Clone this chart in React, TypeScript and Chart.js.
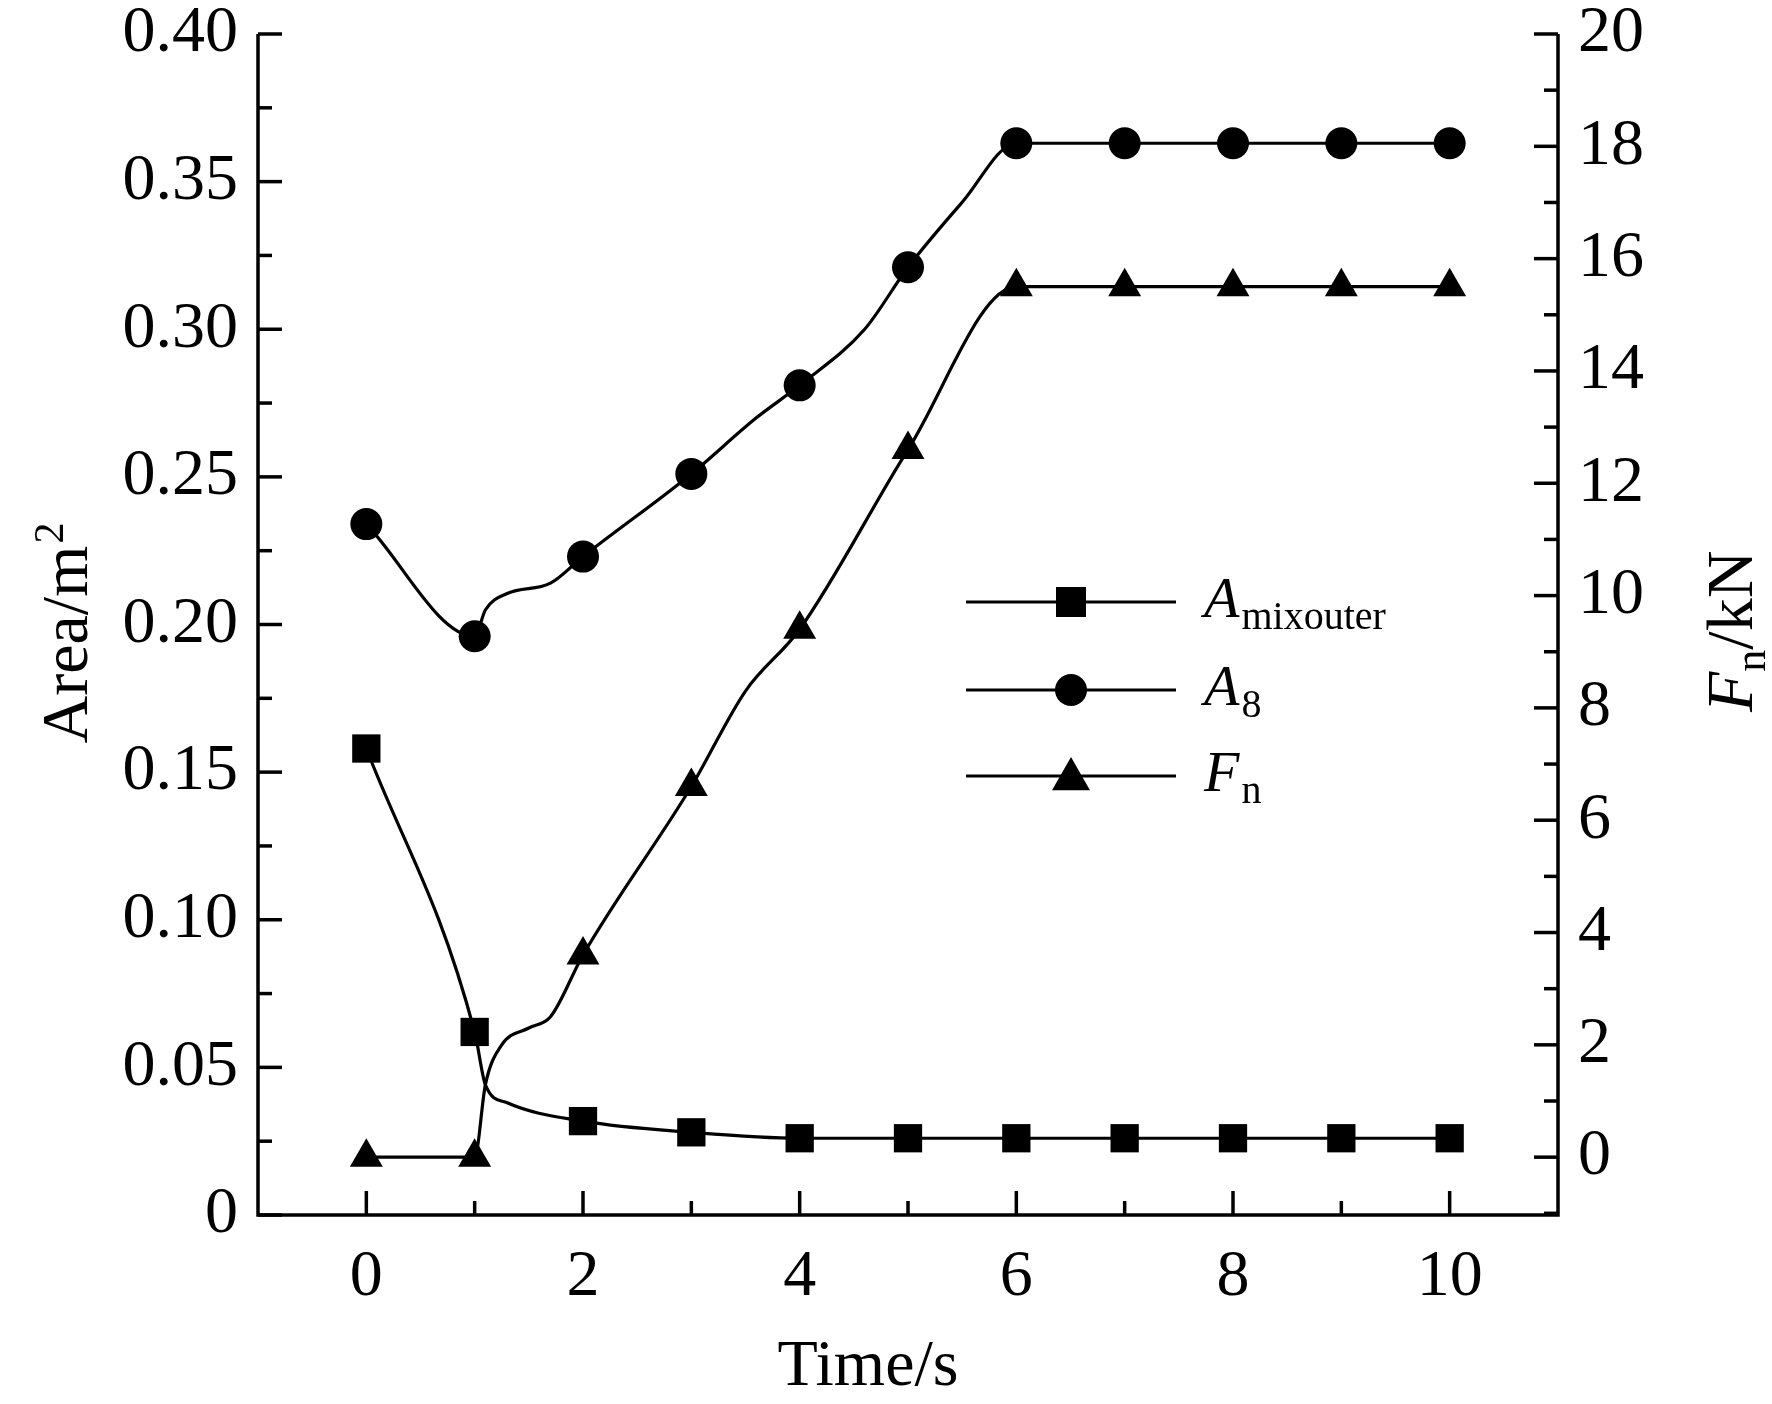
import React, { useEffect, useRef } from "react";
import { Chart, registerables } from "chart.js";
Chart.register(...registerables);

const mixX = [0, 1, 1.1, 1.3, 2, 3, 4, 5, 6, 7, 8, 9, 10];
const mixY = [0.158, 0.062, 0.044, 0.038, 0.0318, 0.028, 0.026, 0.026, 0.026, 0.026, 0.026, 0.026, 0.026];
const a8X = [0, 1, 1.1, 1.3, 1.7, 2, 3, 3.6, 4, 4.6, 5, 5.5, 6, 7, 8, 9, 10];
const a8Y = [0.234, 0.196, 0.205, 0.2105, 0.214, 0.223, 0.251, 0.27, 0.281, 0.3, 0.321, 0.343, 0.363, 0.363, 0.363, 0.363, 0.363];
const fnX = [0, 1, 1.1, 1.25, 1.5, 1.7, 2, 3, 3.5, 4, 5, 6, 7, 8, 9, 10];
const fnY = [0, 0, 1.3, 2.0, 2.3, 2.5, 3.6, 6.6, 8.3, 9.4, 12.6, 15.5, 15.5, 15.5, 15.5, 15.5];
const leftTicks = [0, 0.05, 0.1, 0.15, 0.2, 0.25, 0.3, 0.35, 0.4];
const leftTickLabels = ["0", "0.05", "0.10", "0.15", "0.20", "0.25", "0.30", "0.35", "0.40"];
const rightTicks = [0, 2, 4, 6, 8, 10, 12, 14, 16, 18, 20];
const xTicks = [0, 2, 4, 6, 8, 10];

const FONT = "'Liberation Serif', 'Times New Roman', serif";
const mk = (xs: number[], ys: number[]) => xs.map((x, i) => ({ x, y: ys[i] }));
const radii = (xs: number[], r: number) => xs.map((x) => (Number.isInteger(x) ? r : 0));

const axesPlugin = {
  id: "axesDraw",
  afterDraw(chart: any) {
    const { ctx, chartArea: a, scales } = chart;
    const xs = scales.x, yl = scales.yL, yr = scales.yR;
    ctx.save();
    ctx.strokeStyle = "#000";
    ctx.fillStyle = "#000";
    ctx.lineWidth = 3.5;
    ctx.beginPath();
    ctx.moveTo(a.left, a.top); ctx.lineTo(a.left, a.bottom); ctx.lineTo(a.right, a.bottom); ctx.lineTo(a.right, a.top);
    ctx.stroke();
    ctx.font = `66px ${FONT}`;
    for (let v = 0; v <= 0.4001; v += 0.025) {
      const y = yl.getPixelForValue(v);
      const major = Math.round(v / 0.025) % 2 === 0;
      ctx.beginPath(); ctx.moveTo(a.left, y); ctx.lineTo(a.left + (major ? 24 : 14), y); ctx.stroke();
    }
    ctx.textAlign = "right"; ctx.textBaseline = "middle";
    leftTicks.forEach((v, i) => ctx.fillText(leftTickLabels[i], a.left - 20, yl.getPixelForValue(v)));
    for (let v = -1; v <= 20; v += 1) {
      const y = yr.getPixelForValue(v);
      const major = v % 2 === 0;
      ctx.beginPath(); ctx.moveTo(a.right, y); ctx.lineTo(a.right - (major ? 24 : 14), y); ctx.stroke();
    }
    ctx.textAlign = "left";
    rightTicks.forEach((v) => ctx.fillText(String(v), a.right + 20, yr.getPixelForValue(v)));
    for (let v = 0; v <= 10; v += 1) {
      const x = xs.getPixelForValue(v);
      const major = v % 2 === 0;
      ctx.beginPath(); ctx.moveTo(x, a.bottom); ctx.lineTo(x, a.bottom - (major ? 24 : 14)); ctx.stroke();
    }
    ctx.textAlign = "center"; ctx.textBaseline = "top";
    xTicks.forEach((v) => ctx.fillText(String(v), xs.getPixelForValue(v), a.bottom + 30));
    ctx.fillText("Time/s", (a.left + a.right) / 2 - 40, 1335);
    ctx.save();
    ctx.translate(70, (a.top + a.bottom) / 2); ctx.rotate(-Math.PI / 2);
    ctx.textBaseline = "middle"; ctx.textAlign = "center";
    ctx.fillText("Area/m", -20, 0);
    const w = ctx.measureText("Area/m").width;
    ctx.font = `42px ${FONT}`; ctx.textAlign = "left";
    ctx.fillText("2", -20 + w / 2 + 2, -18);
    ctx.restore();
    ctx.save();
    ctx.translate(1735, 712); ctx.rotate(-Math.PI / 2);
    ctx.textBaseline = "middle"; ctx.textAlign = "left";
    ctx.font = `italic 66px ${FONT}`; ctx.fillText("F", 0, 0);
    let off = ctx.measureText("F").width;
    ctx.font = `44px ${FONT}`; ctx.fillText("n", off, 18);
    off += ctx.measureText("n").width;
    ctx.font = `66px ${FONT}`; ctx.fillText("/kN", off, 0);
    ctx.restore();
    const rows = [
      { y: 602, style: "rect", r: 15, main: "A", sub: "mixouter" },
      { y: 690, style: "circle", r: 16, main: "A", sub: "8" },
      { y: 776, style: "triangle", r: 19, main: "F", sub: "n" },
    ];
    rows.forEach((row) => {
      ctx.lineWidth = 3;
      ctx.beginPath(); ctx.moveTo(966, row.y); ctx.lineTo(1176, row.y); ctx.stroke();
      ctx.beginPath();
      if (row.style === "rect") ctx.rect(1071 - row.r, row.y - row.r, 2 * row.r, 2 * row.r);
      else if (row.style === "circle") ctx.arc(1071, row.y, row.r, 0, Math.PI * 2);
      else { ctx.moveTo(1071, row.y - row.r); ctx.lineTo(1071 + row.r, row.y + row.r * 0.75); ctx.lineTo(1071 - row.r, row.y + row.r * 0.75); ctx.closePath(); }
      ctx.fill();
      ctx.textAlign = "left"; ctx.textBaseline = "middle";
      ctx.font = `italic 58px ${FONT}`; ctx.fillText(row.main, 1204, row.y);
      const mw = ctx.measureText(row.main).width;
      ctx.font = `40px ${FONT}`; ctx.fillText(row.sub, 1204 + mw + 2, row.y + 16);
    });
    ctx.restore();
  },
};

export default function App() {
  const ref = useRef<HTMLCanvasElement>(null);
  useEffect(() => {
    document.body.style.margin = "0";
    const common = { borderColor: "#000", backgroundColor: "#000", borderWidth: 3.2, pointBorderWidth: 0, pointHoverRadius: 0, cubicInterpolationMode: "monotone" };
    const chart = new Chart(ref.current!, {
      type: "line",
      data: {
        datasets: [
          { ...common, label: "Amixouter", data: mk(mixX, mixY), yAxisID: "yL", pointStyle: "rect", pointRadius: radii(mixX, 20) },
          { ...common, label: "A8", data: mk(a8X, a8Y), yAxisID: "yL", pointStyle: "circle", pointRadius: radii(a8X, 16) },
          { ...common, label: "Fn", data: mk(fnX, fnY), yAxisID: "yR", pointStyle: "triangle", pointRadius: radii(fnX, 19) },
        ],
      } as any,
      options: {
        animation: false,
        responsive: false,
        layout: { padding: { left: 258, right: 214, top: 34, bottom: 189 } },
        plugins: { legend: { display: false }, tooltip: { enabled: false } },
        scales: {
          x: { type: "linear", min: -1, max: 11, display: false },
          yL: { type: "linear", position: "left", min: 0, max: 0.4, display: false },
          yR: { type: "linear", position: "right", min: -1.03, max: 20, display: false },
        },
      },
      plugins: [axesPlugin],
    });
    return () => chart.destroy();
  }, []);
  return <canvas ref={ref} width={1772} height={1404} style={{ display: "block" }} />;
}
